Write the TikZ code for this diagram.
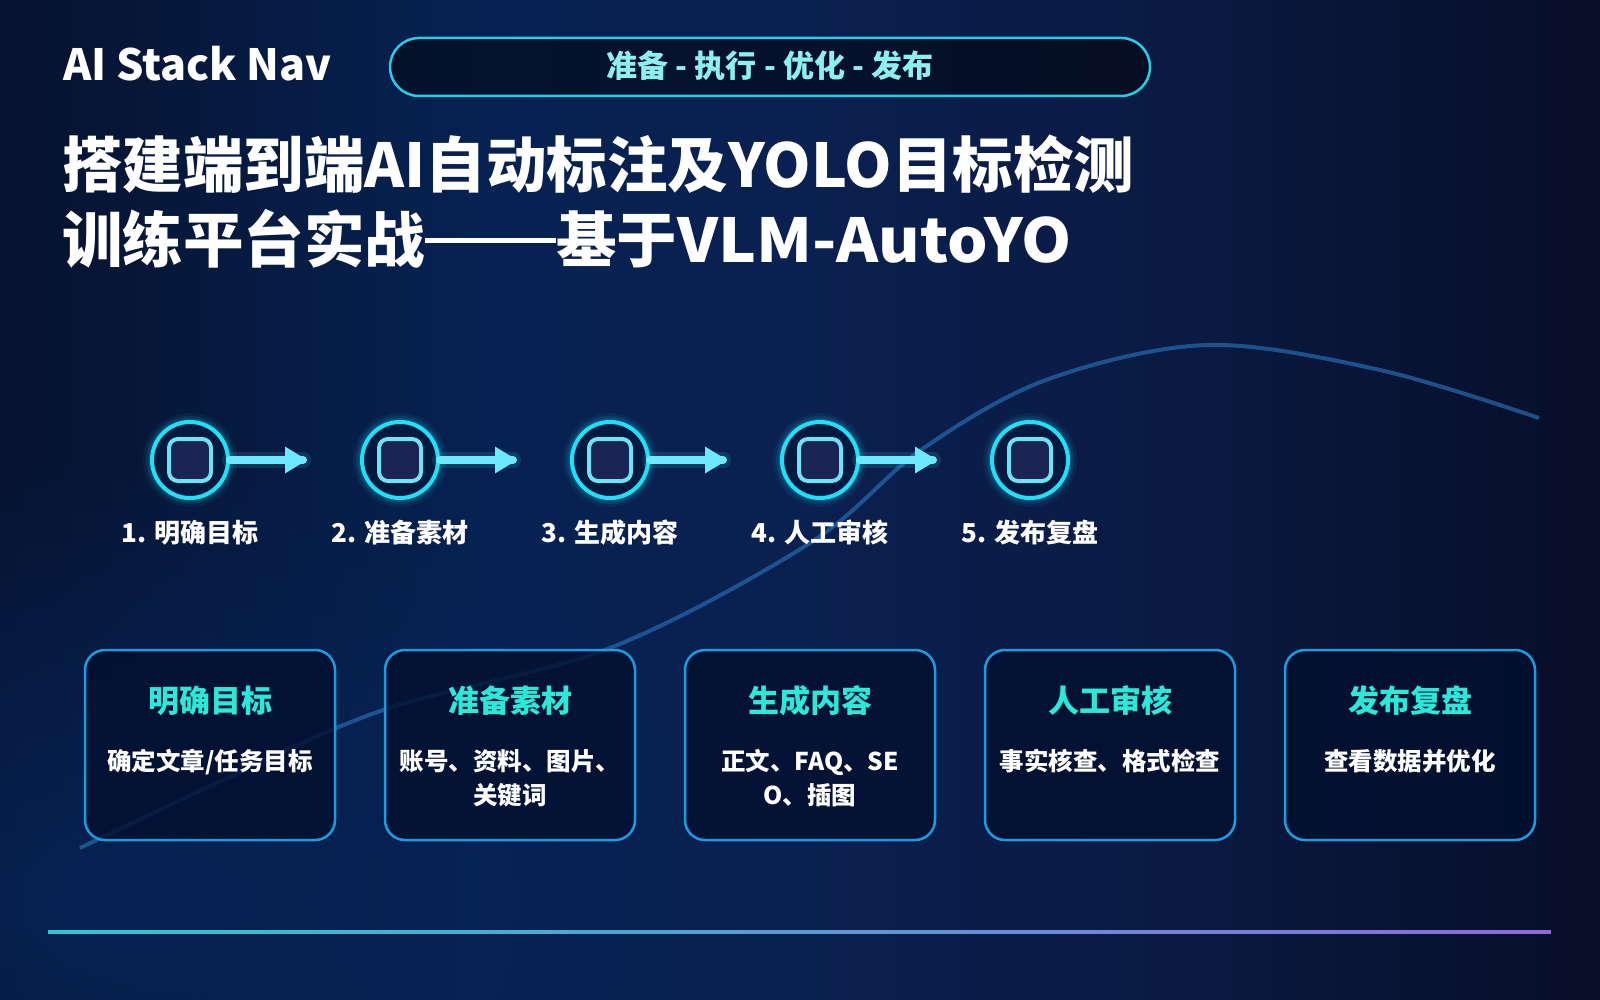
\documentclass[tikz,border=0pt]{standalone}
\usepackage{fontspec}
\usepackage{graphicx}
\usetikzlibrary{fadings}
\setmainfont{Noto Sans CJK SC}
\definecolor{bg0}{HTML}{040816}
\definecolor{bg1}{HTML}{061535}
\definecolor{bg2}{HTML}{062252}
\definecolor{bg3}{HTML}{0A2050}
\definecolor{bg4}{HTML}{0A1A42}
\definecolor{bg5}{HTML}{070F2A}
\definecolor{bg6}{HTML}{04060F}
\definecolor{glowC}{HTML}{06265C}
\definecolor{ringC}{HTML}{1EE0F7}
\definecolor{circFill}{HTML}{031A40}
\definecolor{sqStroke}{HTML}{6FE3F5}
\definecolor{sqFill}{HTML}{1B2555}
\definecolor{arrowC}{HTML}{6DE8FC}
\definecolor{boxBorder}{HTML}{1B9BE0}
\definecolor{boxFill}{HTML}{021030}
\definecolor{titleTeal}{HTML}{2BE8D8}
\definecolor{pillText}{HTML}{8EF0EE}
\definecolor{pillBorder}{HTML}{25CDE9}
\definecolor{curveC}{HTML}{2366A8}
\definecolor{lineA}{HTML}{2CC8D0}
\definecolor{lineB}{HTML}{8C6AD8}
\pgfdeclarehorizontalshading{bgsh}{100bp}{color(0bp)=(bg0); color(25bp)=(bg0); color(37bp)=(bg1); color(44bp)=(bg2); color(50bp)=(bg3); color(57bp)=(bg4); color(64bp)=(bg5); color(75bp)=(bg6); color(100bp)=(bg6)}
\tikzfading[name=softglow, inner color=transparent!20, outer color=transparent!100]
\tikzset{
  txt/.style={inner sep=0pt, outer sep=0pt, anchor=base, text=white, font=\bfseries},
  ring/.style={circle, minimum size=76pt, inner sep=0pt, draw=ringC, line width=4pt, fill=circFill},
  sqbox/.style={draw=sqStroke, line width=4pt, fill=sqFill, rounded corners=9pt},
  arrowline/.style={draw=arrowC, line width=8pt, line cap=round},
  cardbox/.style={draw=boxBorder, line width=2.5pt, fill=boxFill, fill opacity=0.82, rounded corners=20pt},
}
\begin{document}
\begin{tikzpicture}[x=1pt,y=-1pt]
\useasboundingbox (0,0) rectangle (1600,1000);
% background
\begin{scope}
  \clip (0,0) rectangle (1600,1000);
  \shade[shading=bgsh, shift={(800,500)}, rotate=-45] (-920,-1000) rectangle (920,1000);
  \fill[glowC, path fading=softglow] (-500,450) rectangle (700,1350);
\end{scope}

% header
\node[txt, anchor=base west, font=\bfseries\fontsize{43}{43}\selectfont] (brand) at (63,81) {AI Stack Nav};
\draw[draw=pillBorder, line width=2.5pt, fill=black, fill opacity=0.45, rounded corners=29pt] (390,38) rectangle (1150,96);
\node[txt, text=pillText, font=\bfseries\fontsize{31}{31}\selectfont] (pill) at (770,78) {准备 - 执行 - 优化 - 发布};

% big title
\node[txt, anchor=base west, font=\bfseries\fontsize{60.5}{60.5}\selectfont] (t1) at (62,188) {搭建端到端AI自动标注及YOLO目标检测};
\node[txt, anchor=base west, font=\bfseries\fontsize{60.5}{60.5}\selectfont] (t2) at (62,262) {训练平台实战\rule[19pt]{131pt}{5.5pt}基于\scalebox{1.055}[1]{VLM-AutoYO}};

% wave curve
\draw[curveC, line width=4pt, opacity=0.75] plot[smooth, tension=0.55] coordinates {(80,848) (230,777) (386,709) (610,648) (810,543) (921,450) (1046,380) (1207,345) (1380,370) (1539,418)};

% steps
\foreach \k/\lab in {0/1. 明确目标, 1/2. 准备素材, 2/3. 生成内容, 3/4. 人工审核, 4/5. 发布复盘}{
  \pgfmathsetmacro{\cx}{190+210*\k}
  \foreach \w/\o in {18/0.06, 12/0.10, 7/0.16}{
    \draw[ringC, line width=\w pt, opacity=\o] (\cx,460) circle (38);
  }
  \node[ring] (s\k) at (\cx,460) {};
  \draw[sqbox] (\cx-21,439) rectangle (\cx+21,481);
  \node[txt, font=\bfseries\fontsize{26}{26}\selectfont] (l\k) at (\cx,542) {\lab};
}
\foreach \k in {0,1,2,3}{
  \pgfmathsetmacro{\cx}{190+210*\k}
  \coordinate (a\k) at (\cx+113,460);
  \draw[arrowC, line width=16pt, line cap=round, opacity=0.12] (s\k.east) -- (a\k);
  \draw[arrowline] (s\k.east) -- (a\k);
  \fill[arrowC] (\cx+95,446.5) -- (\cx+117,460) -- (\cx+95,473.5) -- cycle;
}

% cards
\foreach \k/\ttl/\da/\db in {0/明确目标/{确定文章/任务目标}/{}, 1/准备素材/账号、资料、图片、/关键词, 2/生成内容/正文、FAQ、SE/O、插图, 3/人工审核/事实核查、格式检查/{}, 4/发布复盘/查看数据并优化/{}}{
  \pgfmathsetmacro{\bx}{85+300*\k}
  \draw[cardbox] (\bx,650) rectangle (\bx+250,840);
  \node[txt, text=titleTeal, font=\bfseries\fontsize{31}{31}\selectfont] (h\k) at (\bx+125,712) {\ttl};
  \node[txt, font=\bfseries\fontsize{24.5}{24.5}\selectfont] (d\k) at (\bx+125,770) {\da};
  \node[txt, font=\bfseries\fontsize{24.5}{24.5}\selectfont] (e\k) at (\bx+125,804) {\db};
}

% bottom gradient line
\shade[left color=lineA, right color=lineB] (48,930.5) rectangle (1551,933.5);
\end{tikzpicture}
\end{document}
